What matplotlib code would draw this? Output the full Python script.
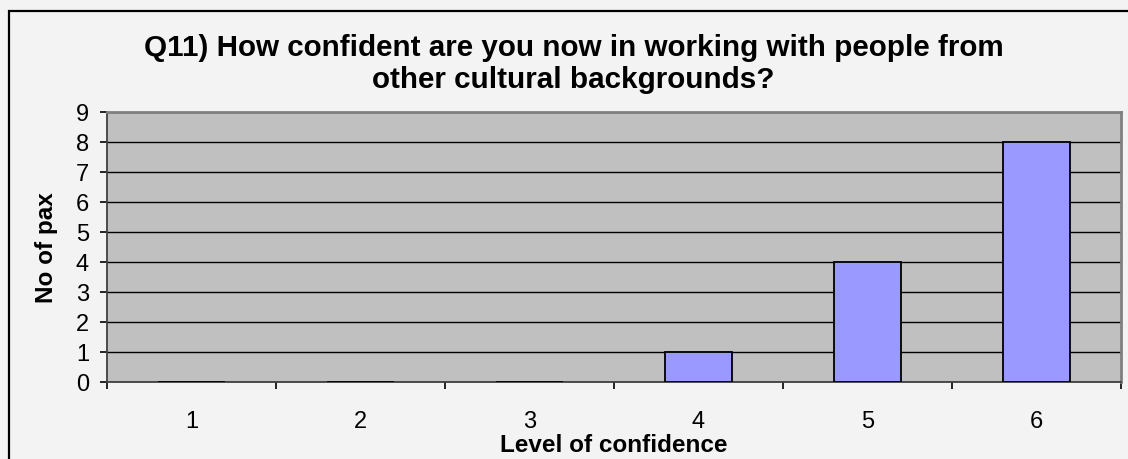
import matplotlib.pyplot as plt
import matplotlib.patches as patches

categories = ["1", "2", "3", "4", "5", "6"]
counts = [0, 0, 0, 1, 4, 8]
yticks = [0, 1, 2, 3, 4, 5, 6, 7, 8, 9]

plt.rcParams['font.family'] = ['Liberation Sans', 'DejaVu Sans']

W, H = 1128, 460
fig = plt.figure(figsize=(W / 100, H / 100), dpi=100)
fig.patch.set_facecolor('#f3f3f3')

# outer chart border, runs off the right and bottom edge like the original
border = patches.Rectangle((9 / W, -0.1), 1.2, 1.1 - 12 / H,
                           transform=fig.transFigure, fill=False,
                           edgecolor='black', linewidth=1.6)
fig.patches.append(border)

ax = fig.add_axes([107 / W, 1 - 383 / H, (1121 - 107) / W, (383 - 113) / H])
ax.set_facecolor('#c0c0c0')

x = list(range(len(categories)))
ax.bar(x, counts, width=0.4, color='#9999ff', edgecolor='black', linewidth=1.3, zorder=3)

ax.set_xlim(-0.5, len(categories) - 0.5)
ax.set_ylim(0, 9)
ax.set_yticks(yticks)
ax.yaxis.grid(True, color='black', linewidth=1.0, zorder=1)
ax.set_axisbelow(True)

# category labels centred, tick marks between categories
ax.set_xticks(x)
ax.set_xticklabels(categories, fontsize=17)
ax.tick_params(axis='x', length=0, pad=20)
ax.set_xticks([i + 0.5 for i in range(-1, len(categories))], minor=True)
ax.tick_params(axis='x', which='minor', length=5, width=1.2, color='black')
ax.tick_params(axis='y', length=5, width=1.2, labelsize=17, pad=8)

for side in ['top', 'right']:
    ax.spines[side].set_color('#808080')
    ax.spines[side].set_linewidth(2)
ax.spines['left'].set_color('#404040')
ax.spines['bottom'].set_color('#404040')
ax.spines['left'].set_linewidth(1.3)
ax.spines['bottom'].set_linewidth(1.3)

fig.text(614 / W, 1 - 452 / H, "Level of confidence", ha='center', va='baseline',
         fontsize=17.5, fontweight='bold')
fig.text(47 / W, 1 - 248 / H, "No of pax", ha='center', va='center', rotation=90,
         fontsize=17.5, fontweight='bold')

fig.text(573.5 / W, 1 - 34 / H,
         "Q11) How confident are you now in working with people from\nother cultural backgrounds?",
         ha='center', va='top', fontsize=21.3, fontweight='bold', linespacing=1.2)

plt.savefig("out.png", dpi=100, facecolor=fig.get_facecolor())
